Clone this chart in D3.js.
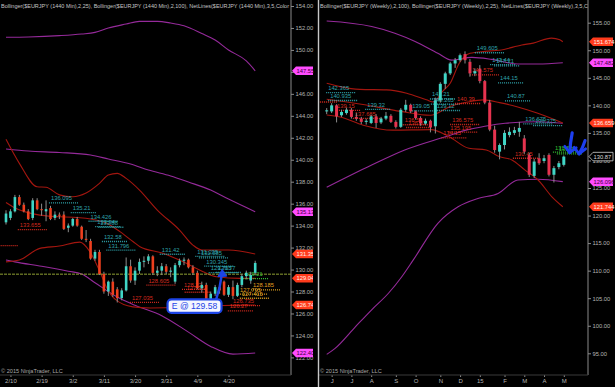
<!DOCTYPE html>
<html>
<head>
<meta charset="utf-8">
<script src="https://cdn.jsdelivr.net/npm/d3@7"></script>
<style>
  html, body { margin: 0; padding: 0; background: #000; }
  svg { display: block; font-family: "Liberation Sans", Arial, sans-serif; }
</style>
</head>
<body>
<svg id="chart" width="615" height="387"></svg>
<script>
// ---- daily panel (left) : [open, high, low, close]
const dailyCandles = [
  [134.3,135.4,134.1,135.1],[134.7,135.5,134.5,135.3],[135.3,136.8,135.2,136.6],[136.6,136.8,135.8,135.9],
  [135.9,136.1,135.2,135.3],[135.3,135.5,134.5,134.6],[134.7,136.5,134.5,136.3],[136.3,136.5,135.4,135.5],
  [135.5,136.0,134.9,135.4],[135.3,136.3,134.4,135.5],[135.6,135.8,134.5,134.6],[134.7,135.3,134.5,135.0],
  [135.0,135.2,134.6,134.9],[135.0,135.3,133.6,133.7],[133.8,134.2,133.4,134.0],[134.0,134.7,133.9,134.6],
  [134.6,134.8,133.9,134.0],[133.9,134.0,132.7,132.8],[132.8,133.6,132.5,132.7],[132.6,132.8,130.9,131.0],
  [131.0,131.8,130.8,131.6],[131.6,131.8,129.5,129.6],[129.6,129.8,127.8,128.0],[128.0,129.0,127.6,128.9],
  [128.9,129.2,127.5,127.7],[128.2,128.4,127.0,127.4],[127.4,128.3,127.2,128.1],[128.1,131.1,128.0,130.3],
  [130.3,130.9,128.8,129.0],[129.0,130.2,128.6,129.9],[129.9,131.0,129.6,130.7],[130.7,131.2,130.2,130.8],
  [130.8,131.4,130.5,131.2],[131.2,131.3,129.5,129.7],[129.7,130.3,129.4,129.9],[129.9,130.6,129.5,130.3],
  [130.3,130.5,129.6,129.8],[129.8,130.2,129.3,129.9],[128.9,130.6,128.7,130.4],[130.4,131.0,130.2,130.8],
  [130.8,131.1,130.4,130.9],[130.9,131.0,130.1,130.2],[130.2,130.4,129.5,129.7],[129.7,129.9,128.2,128.3],
  [128.3,128.9,127.9,128.6],[128.6,128.8,127.0,127.3],[127.3,128.0,126.2,127.8],[127.8,128.6,127.6,128.4],
  [128.4,128.7,127.8,128.1],[128.9,129.0,127.6,127.7],[127.7,128.6,127.5,128.4],[128.4,129.0,127.3,127.6],
  [127.6,128.8,127.5,128.6],[128.6,129.6,128.4,129.4],[129.4,129.9,129.1,129.7],[129.0,129.8,128.7,129.5],
  [129.7,130.8,129.5,130.6]
];
const dailyTickIdx = [1, 8, 15, 22, 29, 36, 43, 50];
const dailyTickLabels = ["2/10", "2/19", "3/2", "3/11", "3/20", "3/31", "4/9", "4/20"];

// bollinger bands, [bar index, price]
const bb100UpL = [[0,151.15],[5,151.18],[12,151.3],[17,151.45],[20,151.6],[23,152.0],[27,152.36],[30,152.6],[34,152.6],[37,152.45],[40,152.2],[44,151.5],[47,150.9],[50,150.0],[54,149.0],[56,148.1]];
const bb100MidL = [[0,140.98],[5,140.79],[12,140.66],[19,140.43],[23,140.07],[28,139.61],[32,139.06],[37,138.52],[41,137.97],[46,137.24],[50,136.42],[56,135.27]];
const bb100LowL = [[0,130.87],[2,130.7],[8,130.3],[14,129.85],[17,129.6],[20,128.8],[25,127.5],[29,126.75],[35,125.8],[41,124.3],[46,123.0],[51,122.3],[56,122.4]];
const bb25UpL = [[0,141.86],[3,139.67],[7,137.54],[9,137.49],[12,136.8],[15,136.63],[18,136.97],[21,137.85],[23,138.6],[25,138.76],[27,138.3],[30,137.24],[34,135.42],[39,133.6],[42,132.23],[44,131.78],[50,131.78],[56,131.41]];
const bb25MidL = [[0,136.1],[1.6,135.7],[7.6,134.96],[19,134.6],[22.7,134.2],[25.6,133.45],[28.6,132.53],[30.1,132.08],[35.3,131.48],[39.8,130.71],[44.3,129.8],[47.3,129.35],[52.6,129.2],[56,129.2]];
const bb25LowL = [[0,130.7],[3,130.87],[7.6,131.93],[12,132.14],[16.6,132.5],[18.9,131.6],[21.1,129.8],[22.7,128.3],[24.5,127.3],[28.5,126.6],[32.4,126.5],[46.5,126.7],[56,126.77]];

// net lines: value, first bar, kind (c cyan, r red, o orange, g green)
const netValsL = [136.095,135.21,134.426,133.94,133.88,132.58,131.796,131.42,131.235,131.085,130.345,129.755,129.77,129.21,128.185,127.795,127.415,133.655,132.21,128.605,128.22,127.96,127.035,126.735,126.27];
const netStartL = [10.1,15,19,20.5,21.2,22,23,35,43,43.8,45,46,47.6,53.7,55.5,52.6,53,3.1,-3,32,40,40.6,28.3,51,50.3];
const netKindL = ["c","c","c","c","c","c","c","c","c","c","c","c","c","g","o","o","o","r","r","r","r","r","r","r","r"];

const markerTextL = ["147.55","135.13","131.352","129.046","126.741","122.401"];
const entryPrice = 129.58;

// ---- weekly panel (right)
const weeklyCandles = [
  [138.9,139.5,138.4,139.1],[138.9,140.4,138.6,140.0],[140.0,140.2,136.9,138.0],[138.2,139.2,137.9,138.8],
  [138.6,139.6,138.3,139.2],[139.2,139.5,137.6,137.9],[137.9,138.6,137.2,137.6],[137.6,137.9,136.6,137.0],
  [137.0,137.6,136.5,137.2],[136.8,138.3,136.6,138.0],[138.0,138.4,135.9,136.8],[136.9,137.9,136.6,137.6],
  [137.6,138.8,137.3,138.1],[138.1,138.4,136.8,137.0],[137.0,137.3,135.8,136.1],[136.1,139.5,135.9,139.2],
  [139.2,141.0,138.8,140.1],[140.1,140.3,138.6,138.9],[138.9,139.1,137.4,137.7],[137.7,138.0,136.3,136.7],
  [136.7,137.6,136.4,137.2],[137.2,137.4,135.1,136.0],[136.2,141.4,134.9,140.9],[140.9,144.2,140.5,143.9],
  [143.9,146.1,143.0,145.8],[145.8,147.9,145.5,147.6],[147.6,148.6,146.8,148.2],[148.2,149.4,147.9,149.1],
  [149.3,149.8,147.6,148.2],[147.9,148.4,145.2,145.8],[145.8,146.7,145.3,146.2],[146.6,147.3,144.0,144.4],
  [144.4,144.6,140.2,140.5],[140.5,141.0,135.3,135.6],[135.6,136.3,131.4,131.9],[131.6,133.1,130.2,132.8],
  [132.8,135.5,132.0,135.0],[134.6,136.0,134.2,135.2],[135.0,136.1,134.6,135.5],[135.2,137.0,134.3,135.9],
  [134.0,134.6,131.2,131.6],[131.0,131.4,127.0,127.4],[127.2,130.3,126.8,129.8],[130.4,131.3,129.2,129.5],
  [129.9,131.0,129.5,130.4],[131.0,131.3,127.1,127.4],[127.4,129.0,126.0,128.6],[128.8,129.9,128.4,129.5],
  [129.2,130.9,128.9,130.7]
];
const weeklyTickIdx = [1, 5, 9, 14, 18, 23, 27, 31, 36, 40, 44, 48];
const weeklyTickLabels = ["J", "J", "A", "S", "O", "N", "D", "15", "F", "M", "A", "M"];

const bb100UpR = [[0,155.3],[9.1,154.3],[13.8,153.1],[17.9,151.6],[22.5,149.45],[25.3,148.2],[29.4,148.7],[33.4,148.35],[38.7,147.5],[42.8,147.5],[47.8,147.74]];
const bb100MidR = [[0,125.13],[9.1,129.17],[15.8,131.9],[24,134.3],[28.6,135.6],[32,136.2],[36.1,136.74],[42.8,137.03],[47.8,136.74]];
const bb100LowR = [[0,94.8],[1.7,95.9],[5.8,99.8],[9.1,102.9],[12.5,105.9],[15.2,108.9],[17.5,111.9],[22.5,118.6],[26.6,121.6],[30.6,123.1],[34.7,124.0],[38.7,126.45],[42.8,126.6],[47.8,126.15]];
const bb26UpR = [[0,144.0],[2.7,143.4],[6.7,142.9],[12.1,142.8],[16.2,142.2],[20.2,141.0],[21.6,140.6],[23.5,142.6],[25,144.0],[26.8,147.6],[29,149.45],[32,149.8],[35,150.0],[39.5,150.95],[41.8,151.3],[45.5,152.2],[47.2,151.9],[47.8,151.55]];
const bb26MidR = [[0,141.1],[7,140.2],[15,138.9],[21,138.2],[25,139.8],[28.5,140.6],[31.7,141.0],[35,140.5],[38.5,139.75],[42.6,138.6],[47.8,136.8]];
const bb26LowR = [[0,138.25],[2.7,137.9],[7.4,136.4],[13.4,135.5],[21.1,135.6],[24.8,134.3],[28.8,132.2],[32.3,131.9],[34.9,130.7],[37.5,130.1],[40.1,128.3],[42.8,126.45],[45.6,123.4],[47.8,121.6]];

const netValsR = [142.365,140.935,139.32,139.05,141.21,140.265,139.12,149.605,147.44,147.21,144.15,140.87,136.675,136.375,131.56,131.25,139.15,137.685,136.53,136.03,140.39,145.575,136.575,135.195,134.15,130.45,140.66];
const netStartR = [0.3,0.7,8.2,17.3,21.3,21.5,22.3,30.4,33.5,34.3,35.1,36.5,40.2,42.2,46.2,47,2.1,5.7,15.8,16.5,26.4,29.4,25.4,25,23.6,38.1,-3];
const netKindR = ["c","c","c","c","c","c","c","c","c","c","c","c","c","c","g","g","r","r","r","r","r","r","r","r","r","r","r"];

const markerTextR = ["151.674","147.482","136.659","130.87","126.096","121.744"];

// ---- styles
const purple = "#952a9a", darkRed = "#a3160f";
const netColor = { c: "#2fa3ab", r: "#d42a1e", o: "#e0a020", g: "#34c234" };
const upColor = "#40d6c6";
const axisColor = "#8a8a8a", textColor = "#b4b4b4";

var svg = d3.select("#chart");
svg.append("rect").attr("width", 615).attr("height", 387).attr("fill", "#000");

var defs = svg.append("defs");
defs.append("clipPath").attr("id", "clipL").append("rect").attr("x", 0).attr("y", 0).attr("width", 291).attr("height", 375);
defs.append("clipPath").attr("id", "clipR").append("rect").attr("x", 319).attr("y", 0).attr("width", 269).attr("height", 375);
defs.append("clipPath").attr("id", "clipTagL").append("rect").attr("x", 0).attr("y", 0).attr("width", 313).attr("height", 387);

var xL = d3.scaleLinear().domain([0, 56]).range([6, 255.2]);
var yL = d3.scaleLinear().domain([122, 154]).range([357.4, 6]);
var xR = d3.scaleLinear().domain([0, 48]).range([326.7, 563.8]);
var yR = d3.scaleLinear().domain([95, 155]).range([353.3, 22.7]);

function bandLine(g, pts, x, y, color) {
    g.append("path")
        .datum(pts)
        .attr("fill", "none")
        .attr("stroke", color)
        .attr("stroke-width", 1.1)
        .attr("d", d3.line().x(d => x(d[0])).y(d => y(d[1])).curve(d3.curveMonotoneX));
}

function netLines(g, vals, starts, kinds, x, y, panelLeft) {
    vals.forEach(function (v, i) {
        const x0 = x(starts[i]);
        let w = 20;
        // a line whose label starts left of the panel shows only its dotted tail
        if (x0 >= panelLeft) {
            const t = g.append("text")
                .attr("x", x0)
                .attr("y", y(v) - 2.2)
                .attr("font-size", 5.8)
                .attr("fill", netColor[kinds[i]])
                .text(d3.format(".6~f")(v));
            w = t.node().getComputedTextLength();
        }
        g.append("line")
            .attr("x1", x0 - 2).attr("x2", x0 + w + 6)
            .attr("y1", y(v) + 0.3).attr("y2", y(v) + 0.3)
            .attr("stroke", netColor[kinds[i]])
            .attr("stroke-width", 1.3)
            .attr("stroke-dasharray", "1,1");
    });
}

function candles(g, data, x, y, bodyW, downColor) {
    var c = g.selectAll(".candle").data(data).enter().append("g").attr("class", "candle");
    c.append("line")
        .attr("x1", (d, i) => x(i)).attr("x2", (d, i) => x(i))
        .attr("y1", d => y(d[1])).attr("y2", d => y(d[2]))
        .attr("stroke", "#8c8c8c").attr("stroke-width", 1);
    c.append("rect")
        .attr("x", (d, i) => x(i) - bodyW / 2)
        .attr("width", bodyW)
        .attr("y", d => y(Math.max(d[0], d[3])))
        .attr("height", d => Math.max(1, Math.abs(y(d[0]) - y(d[3]))))
        .attr("fill", d => d[3] >= d[0] ? upColor : downColor);
}

function priceTag(g, axisX, yPos, text, fill, textFill, stroke) {
    const w = 24, h = 8.5;
    g.append("path")
        .attr("d", `M${axisX + 1},${yPos} L${axisX + 5},${yPos - h / 2} L${axisX + 1 + w},${yPos - h / 2} L${axisX + 1 + w},${yPos + h / 2} L${axisX + 5},${yPos + h / 2} Z`)
        .attr("fill", fill)
        .attr("stroke", stroke || "none")
        .attr("stroke-width", 0.8);
    g.append("text")
        .attr("x", axisX + 5.5)
        .attr("y", yPos + 2.1)
        .attr("font-size", 5.8)
        .attr("fill", textFill)
        .text(text);
}

function yAxis(x0, scale, ticks) {
    var ax = svg.append("g")
        .attr("transform", `translate(${x0},0)`)
        .call(d3.axisRight(scale).tickValues(ticks).tickFormat(d3.format(".2f")).tickSize(3).tickPadding(1.5));
    ax.select(".domain").remove();
    ax.selectAll("line").attr("stroke", axisColor);
    ax.selectAll("text").attr("fill", textColor).attr("font-size", 5.8).attr("font-family", "Liberation Sans, Arial, sans-serif");
    svg.append("line").attr("x1", x0).attr("x2", x0).attr("y1", 0).attr("y2", 375).attr("stroke", axisColor);
}

function xAxis(x0, x1, scale, idx, labels) {
    var ax = svg.append("g")
        .attr("transform", "translate(0,375)")
        .call(d3.axisBottom(scale).tickValues(idx).tickFormat((d, i) => labels[i]).tickSize(2).tickPadding(2));
    ax.select(".domain").remove();
    ax.selectAll("line").attr("stroke", axisColor);
    ax.selectAll("text").attr("fill", textColor).attr("font-size", 6).attr("font-family", "Liberation Sans, Arial, sans-serif");
    svg.append("line").attr("x1", x0).attr("x2", x1).attr("y1", 375).attr("y2", 375).attr("stroke", "#3a3a3a");
}

// ---------- left panel
var left = svg.append("g").attr("clip-path", "url(#clipL)");

left.append("text")
    .attr("x", 1).attr("y", 7.5)
    .attr("font-size", 5.6).attr("fill", "#c4c4c4")
    .attr("textLength", 288).attr("lengthAdjust", "spacingAndGlyphs")
    .text("Bollinger($EURJPY (1440 Min),2,25), Bollinger($EURJPY (1440 Min),2,100), NetLines($EURJPY (1440 Min),3,5,Color");

[bb100UpL, bb100MidL, bb100LowL].forEach(p => bandLine(left, p, xL, yL, purple));
[bb25UpL, bb25MidL, bb25LowL].forEach(p => bandLine(left, p, xL, yL, darkRed));

left.append("line")
    .attr("x1", 0).attr("x2", 291)
    .attr("y1", yL(entryPrice)).attr("y2", yL(entryPrice))
    .attr("stroke", "#8fa032").attr("stroke-width", 1).attr("stroke-dasharray", "3,1");

netLines(left, netValsL, netStartL, netKindL, xL, yL, 0);
candles(left, dailyCandles, xL, yL, 2.6, "#ee3f1e");

left.append("text")
    .attr("x", 1).attr("y", 373)
    .attr("font-size", 5.6).attr("fill", "#a8a8a8")
    .text("© 2015 NinjaTrader, LLC");

// entry call-out
var bx = xL(36.3), by = yL(127.28);
var arrowG = left.append("g");
arrowG.append("path")
    .attr("d", `M${xL(47.2)},${by + 0.5} Q${xL(48.1)},${yL(128.3)} ${xL(48.5)},${yL(129.55)}`)
    .attr("fill", "none").attr("stroke", "#1c44e6").attr("stroke-width", 2.4);
arrowG.append("path")
    .attr("d", `M${xL(48.6)},${yL(130.0)} L${xL(47.6)},${yL(129.35)} L${xL(49.6)},${yL(129.4)} Z`)
    .attr("fill", "#1c44e6").attr("stroke", "#1c44e6").attr("stroke-width", 1);
left.append("rect")
    .attr("x", bx).attr("y", by)
    .attr("width", 54).attr("height", 13.5).attr("rx", 4)
    .attr("fill", "#f4f6ff").attr("stroke", "#1c44e6").attr("stroke-width", 2.2);
left.append("text")
    .attr("x", bx + 27).attr("y", by + 10)
    .attr("text-anchor", "middle")
    .attr("font-size", 8.6).attr("fill", "#1c44e6")
    .text("E @ " + d3.format(".2f")(entryPrice));

yAxis(291, yL, d3.range(122, 155, 2));
xAxis(0, 291, xL, dailyTickIdx, dailyTickLabels);

var tagsL = svg.append("g").attr("clip-path", "url(#clipTagL)");
var endsL = [bb100UpL, bb100MidL, bb25UpL, bb25MidL, bb25LowL, bb100LowL];
var tagFillL = ["#ff4cff", "#ff4cff", "#ff3b1c", "#ff3b1c", "#ff3b1c", "#ff4cff"];
endsL.forEach(function (p, i) {
    priceTag(tagsL, 291, yL(p[p.length - 1][1]), markerTextL[i], tagFillL[i], i == 0 || i == 1 || i == 5 ? "#3a003a" : "#fff0ea");
});

// ---------- right panel
var right = svg.append("g").attr("clip-path", "url(#clipR)");

right.append("text")
    .attr("x", 320).attr("y", 7.5)
    .attr("font-size", 5.6).attr("fill", "#c4c4c4")
    .attr("textLength", 268).attr("lengthAdjust", "spacingAndGlyphs")
    .text("Bollinger($EURJPY (Weekly),2,100), Bollinger($EURJPY (Weekly),2,25), NetLines($EURJPY (Weekly),3,5,C");

[bb100UpR, bb100MidR, bb100LowR].forEach(p => bandLine(right, p, xR, yR, purple));
[bb26UpR, bb26MidR, bb26LowR].forEach(p => bandLine(right, p, xR, yR, darkRed));

netLines(right, netValsR, netStartR, netKindR, xR, yR, 319);
candles(right, weeklyCandles, xR, yR, 3.0, "#e6334f");

right.append("text")
    .attr("x", 320).attr("y", 373)
    .attr("font-size", 5.6).attr("fill", "#a8a8a8")
    .text("© 2015 NinjaTrader, LLC");

// hand drawn arrows
function blueArrow(g, j0, v0, j1, v1) {
    const ax = xR(j0), ay = yR(v0), tx = xR(j1), ty = yR(v1);
    g.append("path")
        .attr("d", `M${ax},${ay} Q${ax - 2},${(ay + ty) / 2} ${tx},${ty}`)
        .attr("fill", "none").attr("stroke", "#1d3ff0").attr("stroke-width", 3.2).attr("stroke-linecap", "round");
    g.append("path")
        .attr("d", `M${tx - 5},${ty - 6.5} L${tx},${ty} L${tx + 6.5},${ty - 5}`)
        .attr("fill", "none").attr("stroke", "#1d3ff0").attr("stroke-width", 2.8)
        .attr("stroke-linecap", "round").attr("stroke-linejoin", "round");
}
blueArrow(right, 49.7, 135.0, 49.2, 131.4);
blueArrow(right, 52.3, 133.6, 51.1, 131.2);

yAxis(588, yR, d3.range(95, 156, 5));
xAxis(319, 588, xR, weeklyTickIdx, weeklyTickLabels);

// panel separator
svg.append("line").attr("x1", 318.5).attr("x2", 318.5).attr("y1", 0).attr("y2", 387)
    .attr("stroke", "#c8c8c8").attr("stroke-width", 1.4);

var endsR = [bb26UpR, bb100UpR, bb26MidR, null, bb100LowR, bb26LowR];
var tagFillR = ["#ff3b1c", "#ff4cff", "#ff3b1c", "#000", "#ff4cff", "#ff3b1c"];
endsR.forEach(function (p, i) {
    var v = p ? p[p.length - 1][1] : weeklyCandles[weeklyCandles.length - 1][3];
    var tf = tagFillR[i] == "#000" ? "#d8d8d8" : (tagFillR[i] == "#ff4cff" ? "#3a003a" : "#fff0ea");
    priceTag(svg, 588, yR(v), markerTextR[i], tagFillR[i], tf, tagFillR[i] == "#000" ? "#cfcfcf" : null);
});
</script>
</body>
</html>
